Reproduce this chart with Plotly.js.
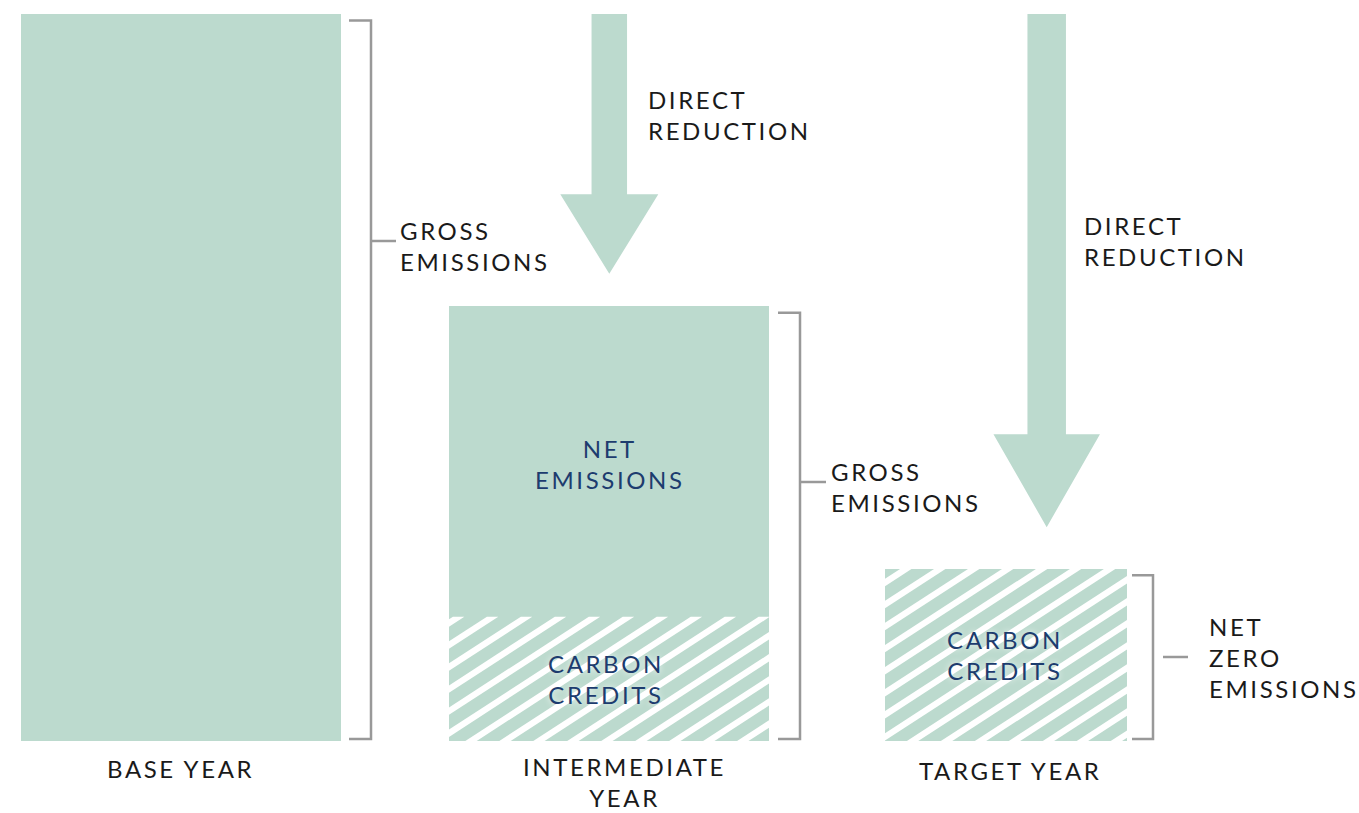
<!DOCTYPE html>
<html><head><meta charset="utf-8">
<script src="https://cdn.plot.ly/plotly-3.0.1.min.js"></script>
<style>
html,body{margin:0;padding:0;background:#fff;}
#chart{width:1359px;height:813px;}
text.annotation-text{letter-spacing:2.6px;}
</style>
</head><body><div id="chart"></div>
<script>
// ---------- data ----------
const categories = ["BASE YEAR", "INTERMEDIATE<br>YEAR", "TARGET YEAR"];
const netEmissions = [100, 42.7, 0];
const carbonCredits = [0, 17.1, 23.7];
const netLabels = ["", "NET<br>EMISSIONS", ""];
const creditLabels = ["", "CARBON<br>CREDITS", "CARBON<br>CREDITS"];
const bracketLabels = ["GROSS<br>EMISSIONS", "GROSS<br>EMISSIONS", "NET<br>ZERO<br>EMISSIONS"];
const arrowLabels = ["DIRECT<br>REDUCTION", "DIRECT<br>REDUCTION"];

// ---------- geometry & style ----------
const W = 1359, H = 813, TOP = 14, BASE = 741, YMAX = 100, PH = BASE - TOP;
const barCenters = [181, 609, 1006];
const barWidths = [320, 320, 242];
const GREEN = '#BCDACE', GRAY = '#999999', INK = '#1a1a1a', NAVY = '#1d3c6e';
const FONT = 'Lato, "Open Sans", sans-serif';
const FS = 24;

const toPy = v => BASE - v / YMAX * PH;
const toV = py => (BASE - py) / PH * YMAX;
const toPaper = py => (BASE - py) / PH;
const gross = netEmissions.map((n, i) => n + carbonCredits[i]);

const shapes = [];
const annotations = [];

// ---------- stripes over carbon credits ----------
const TH = 33 * Math.PI / 180, NX = Math.sin(TH), NY = Math.cos(TH);
const PERIOD = 18.5, SW = 6.2;
const PHASE = 449 * NX + 645 * NY;
function clip(poly, c, keepGE) {
  const out = [];
  const f = p => (p[0] * NX + p[1] * NY - c) * (keepGE ? 1 : -1);
  for (let i = 0; i < poly.length; i++) {
    const a = poly[i], b = poly[(i + 1) % poly.length];
    const fa = f(a), fb = f(b);
    if (fa >= 0) out.push(a);
    if ((fa >= 0) !== (fb >= 0)) {
      const t = fa / (fa - fb);
      out.push([a[0] + t * (b[0] - a[0]), a[1] + t * (b[1] - a[1])]);
    }
  }
  return out;
}
carbonCredits.forEach((c, i) => {
  if (c <= 0) return;
  const x0 = barCenters[i] - barWidths[i] / 2, x1 = barCenters[i] + barWidths[i] / 2;
  const y0 = toPy(c), y1 = toPy(0);
  const rect = [[x0, y0], [x1, y0], [x1, y1], [x0, y1]];
  const ds = rect.map(p => p[0] * NX + p[1] * NY);
  const kmin = Math.floor((Math.min(...ds) - PHASE) / PERIOD) - 1;
  const kmax = Math.ceil((Math.max(...ds) - PHASE) / PERIOD) + 1;
  for (let k = kmin; k <= kmax; k++) {
    const lo = PHASE + k * PERIOD - SW / 2, hi = lo + SW;
    let poly = clip(rect, lo, true);
    if (poly.length < 3) continue;
    poly = clip(poly, hi, false);
    if (poly.length < 3) continue;
    const path = 'M ' + poly.map(p => p[0].toFixed(2) + ',' + toV(p[1]).toFixed(4)).join(' L ') + ' Z';
    shapes.push({type: 'path', path, xref: 'x', yref: 'y', fillcolor: '#ffffff', line: {width: 0}, layer: 'above'});
  }
});

// ---------- brackets ----------
const brackets = [
  {i: 0, x0: 349, x1: 371, t0: 371, t1: 396, tY: 241, lx: 398, ly: 246},
  {i: 1, x0: 778, x1: 800, t0: 800, t1: 826, tY: 482, lx: 829, ly: 487},
  {i: 2, x0: 1132, x1: 1153, t0: 1163, t1: 1188, tY: 657, lx: 1207, ly: 657}
];
brackets.forEach((b, j) => {
  const top = toV(toPy(gross[b.i]) + 6.5), bot = toV(BASE - 2);
  shapes.push({type: 'path', xref: 'x', yref: 'y',
    path: `M ${b.x0},${top} L ${b.x1},${top} L ${b.x1},${bot} L ${b.x0},${bot}`,
    line: {color: GRAY, width: 2.5}, fillcolor: 'rgba(0,0,0,0)', layer: 'above'});
  shapes.push({type: 'line', xref: 'x', yref: 'y', x0: b.t0, x1: b.t1, y0: toV(b.tY), y1: toV(b.tY),
    line: {color: GRAY, width: 2.5}, layer: 'above'});
  annotations.push({x: b.lx, y: toV(b.ly), xref: 'x', yref: 'y', xanchor: 'left', yanchor: 'middle',
    align: 'left', text: bracketLabels[j], showarrow: false, font: {family: FONT, size: FS, color: INK}});
});

// ---------- arrows ----------
const arrows = [
  {from: 0, to: 1, cx: 609.3, sw: 35.5, hw: 98, hl: 79.5, gap: 32.5, lx: 646, ly: 115},
  {from: 0, to: 2, cx: 1046.7, sw: 38.5, hw: 106.5, hl: 93, gap: 41.5, lx: 1082, ly: 241}
];
arrows.forEach((a, j) => {
  const start = toPy(gross[a.from]);
  const tip = toPy(gross[a.to]) - a.gap;
  const hb = tip - a.hl;
  const pts = [[a.cx - a.sw / 2, start], [a.cx + a.sw / 2, start], [a.cx + a.sw / 2, hb], [a.cx + a.hw / 2, hb],
               [a.cx, tip], [a.cx - a.hw / 2, hb], [a.cx - a.sw / 2, hb]];
  shapes.push({type: 'path', xref: 'x', yref: 'y',
    path: 'M ' + pts.map(p => p[0] + ',' + toV(p[1])).join(' L ') + ' Z',
    fillcolor: GREEN, line: {width: 0}, layer: 'above'});
  annotations.push({x: a.lx, y: toV(a.ly), xref: 'x', yref: 'y', xanchor: 'left', yanchor: 'middle',
    align: 'left', text: arrowLabels[j], showarrow: false, font: {family: FONT, size: FS, color: INK}});
});

// ---------- in-bar labels ----------
netLabels.forEach((t, i) => {
  if (!t) return;
  annotations.push({x: barCenters[i] + 1, y: carbonCredits[i] + netEmissions[i] / 2 - 0.3, xref: 'x', yref: 'y',
    text: t, showarrow: false, align: 'center', font: {family: FONT, size: FS, color: NAVY}});
});
creditLabels.forEach((t, i) => {
  if (!t) return;
  annotations.push({x: barCenters[i] - (i === 1 ? 3 : 1), y: carbonCredits[i] / 2, xref: 'x', yref: 'y',
    text: t, showarrow: false, align: 'center',
    font: {family: FONT, size: FS, color: NAVY, shadow: '0px 0px 6px rgba(255,255,255,0.9)'}});
});

// ---------- category labels ----------
const catPos = [{x: 180, y: 768}, {x: 624, y: 782}, {x: 1010, y: 771}];
categories.forEach((c, i) => {
  annotations.push({x: catPos[i].x, y: toPaper(catPos[i].y), xref: 'x', yref: 'paper', yanchor: 'middle',
    text: c, showarrow: false, align: 'center', font: {family: FONT, size: FS, color: INK}});
});

// ---------- traces ----------
const traces = [
  {type: 'bar', name: 'Carbon credits', x: barCenters, y: carbonCredits, width: barWidths,
   marker: {color: GREEN, line: {width: 0}}, hoverinfo: 'skip'},
  {type: 'bar', name: 'Net emissions', x: barCenters, y: netEmissions, width: barWidths,
   marker: {color: GREEN, line: {width: 0}}, hoverinfo: 'skip'}
];

const layout = {
  width: W, height: H,
  margin: {l: 0, r: 0, t: TOP, b: H - BASE, pad: 0},
  barmode: 'stack', bargap: 0,
  showlegend: false,
  paper_bgcolor: '#ffffff', plot_bgcolor: '#ffffff',
  xaxis: {range: [0, W], visible: false, fixedrange: true},
  yaxis: {range: [0, YMAX], visible: false, fixedrange: true},
  shapes, annotations
};

Plotly.newPlot('chart', traces, layout, {displayModeBar: false, staticPlot: true});
</script>
</body></html>
